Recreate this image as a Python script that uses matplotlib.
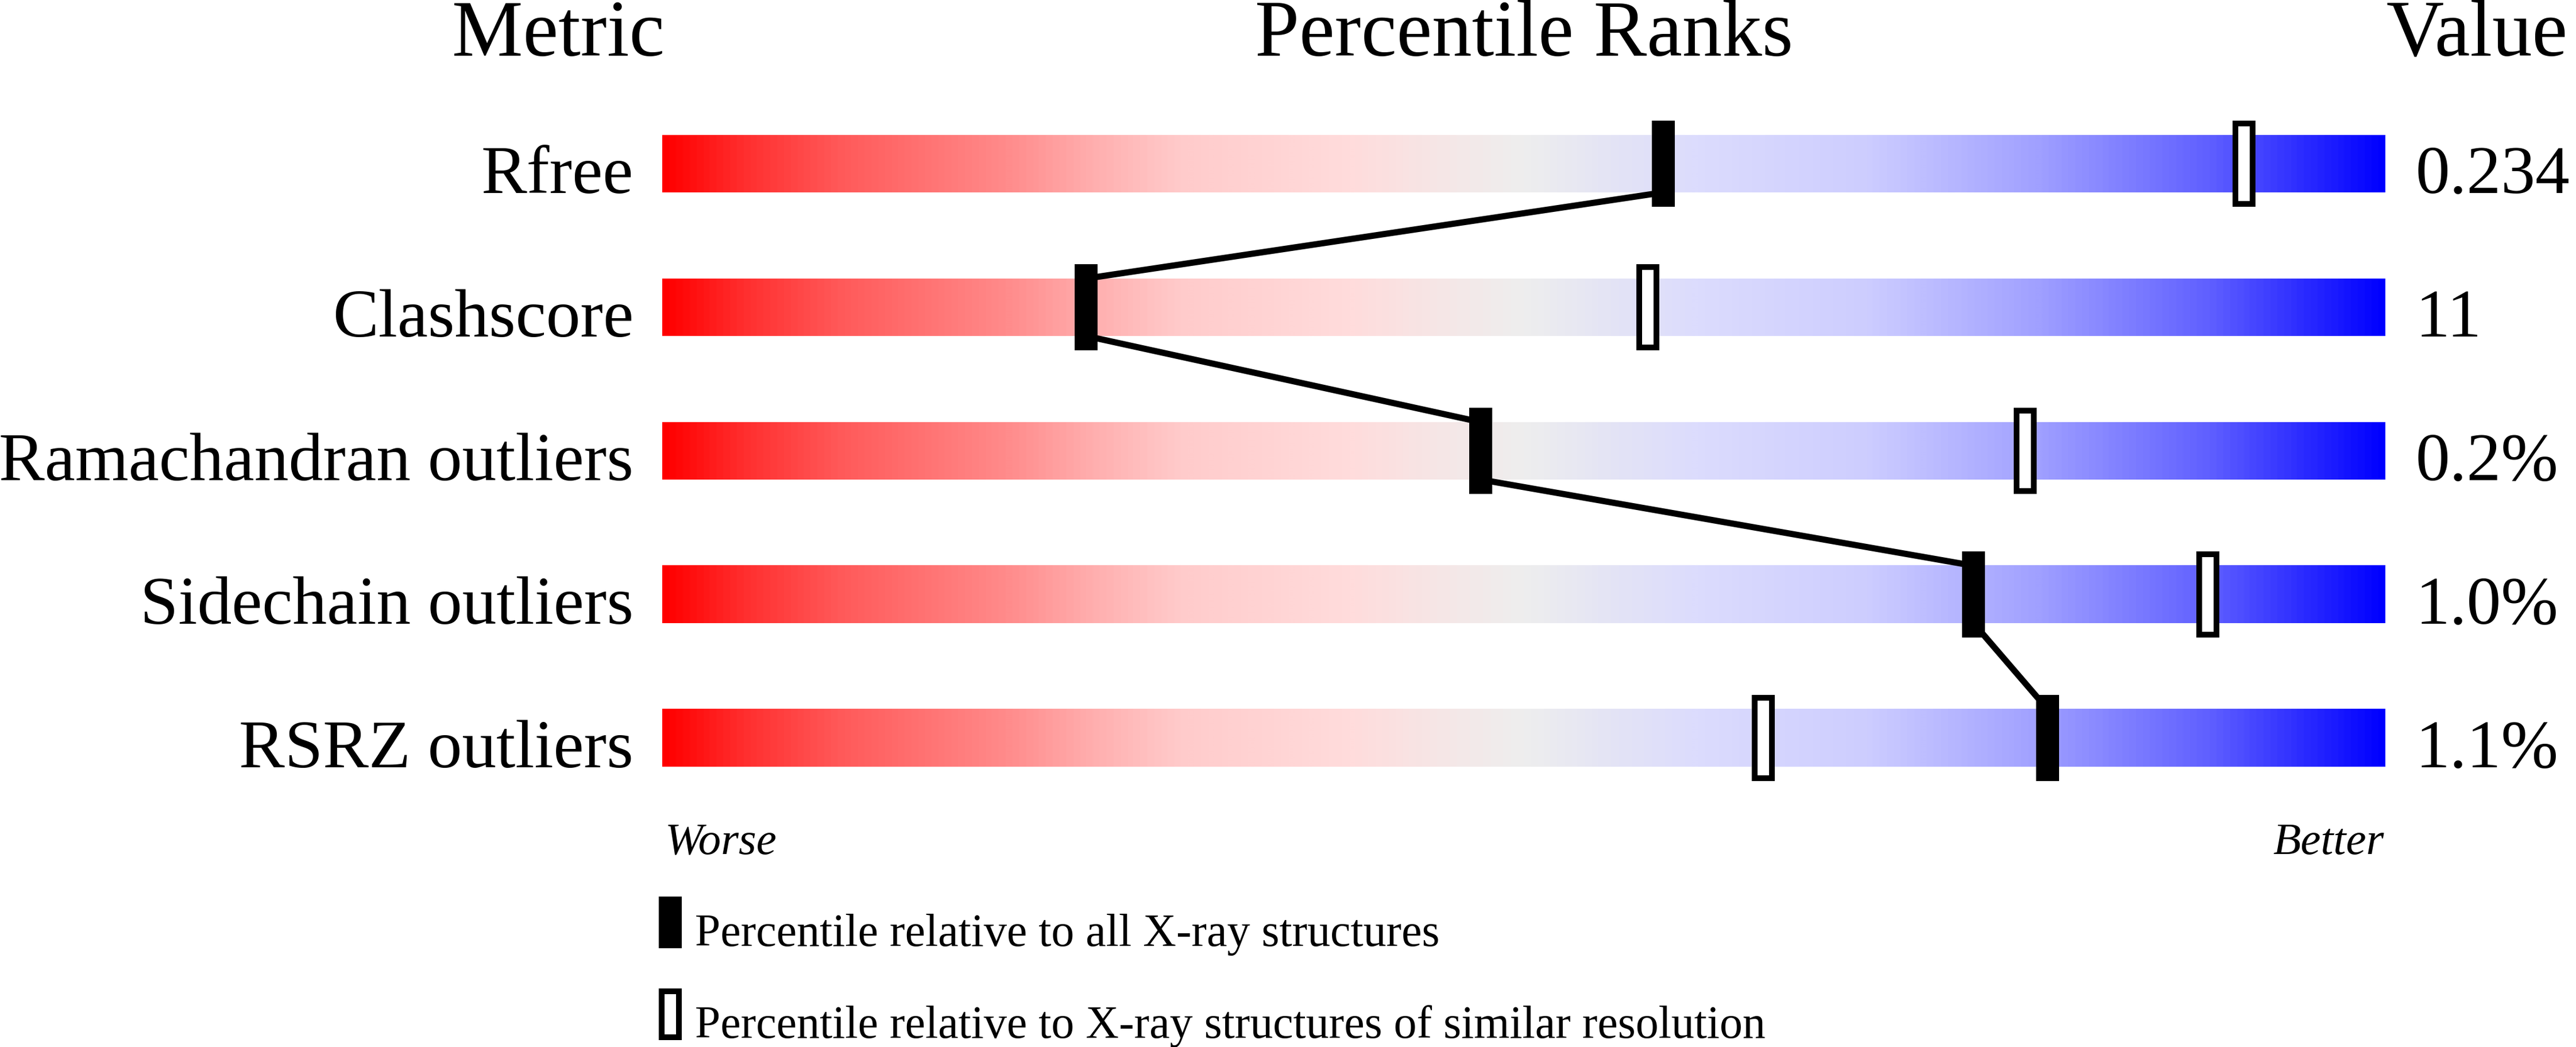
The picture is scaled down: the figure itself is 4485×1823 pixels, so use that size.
import matplotlib
matplotlib.use('Agg')
import numpy as np
import matplotlib.pyplot as plt
import matplotlib.transforms as mtransforms
from matplotlib.colors import LinearSegmentedColormap
from matplotlib.patches import Rectangle

# data
metrics = ['Rfree', 'Clashscore', 'Ramachandran outliers', 'Sidechain outliers', 'RSRZ outliers']
values = ['0.234', '11', '0.2%', '1.0%', '1.1%']
pct_all = [58.1, 24.6, 47.5, 76.1, 80.4]        # filled markers
pct_similar = [91.8, 57.2, 79.1, 89.7, 63.9]    # open markers
legend_labels = ['Percentile relative to all X-ray structures',
                 'Percentile relative to X-ray structures of similar resolution']

# red -> grey -> blue colour ramp of the slider
slider_stops = [
    (0.00, (255, 0, 0)),
    (0.05, (255, 50, 50)),
    (0.10, (255, 88, 88)),
    (0.20, (255, 140, 140)),
    (0.25, (255, 175, 175)),
    (0.30, (255, 203, 203)),
    (0.40, (255, 220, 220)),
    (0.45, (246, 230, 230)),
    (0.50, (238, 238, 238)),
    (0.55, (228, 228, 245)),
    (0.60, (220, 220, 253)),
    (0.70, (205, 205, 255)),
    (0.80, (160, 160, 255)),
    (0.90, (95, 95, 255)),
    (1.00, (0, 0, 255)),
]

plt.rcParams['font.family'] = ['Liberation Serif', 'DejaVu Serif']

W, H, DPI = 4485, 1824, 100
fig = plt.figure(figsize=(W / DPI, H / DPI), dpi=DPI)

# axes holding the bars: x = percentile 0..100, y = row index (250 px per row)
ax = fig.add_axes([1153 / W, 1 - 1411 / H, 3000 / W, 1250 / H])
px_x = 100 / 3000   # one pixel in x data units
px_y = 1 / 250      # one pixel in y data units

cmap = LinearSegmentedColormap.from_list(
    'slider', [(p, tuple(c / 255 for c in rgb)) for p, rgb in slider_stops])
grad = np.linspace(0, 1, 1500).reshape(1, -1)

n = len(metrics)
bar_half = 0.2
mark_half = 0.3
mark_w = 40 * px_x
border_x = 10 * px_x
border_y = 10 * px_y

for i in range(n):
    ax.imshow(grad, cmap=cmap, aspect='auto', interpolation='bilinear',
              extent=(0, 100, i + bar_half, i - bar_half), zorder=1)

# line joining the "all structures" markers
for i in range(n - 1):
    ax.plot([pct_all[i], pct_all[i + 1]], [i + bar_half, i + 1 - bar_half],
            color='black', lw=7.8, solid_capstyle='butt', zorder=2)

for i in range(n):
    p, q = pct_all[i], pct_similar[i]
    ax.add_patch(Rectangle((p - mark_w / 2, i - mark_half), mark_w, 2 * mark_half,
                           fc='black', ec='none', zorder=3))
    ax.add_patch(Rectangle((q - mark_w / 2, i - mark_half), mark_w, 2 * mark_half,
                           fc='black', ec='none', zorder=3))
    ax.add_patch(Rectangle((q - mark_w / 2 + border_x, i - mark_half + border_y),
                           mark_w - 2 * border_x, 2 * mark_half - 2 * border_y,
                           fc='white', ec='none', zorder=4))

ax.set_xlim(0, 100)
ax.set_ylim(n - 0.5, -0.5)
ax.axis('off')

blend = mtransforms.blended_transform_factory(ax.transAxes, ax.transData)

# headers
title_y = -0.5 + (97 - 161) * px_y
ax.text(-181 / 3000, title_y, 'Metric', ha='center', va='baseline', fontsize=100, transform=blend)
ax.text(0.5, title_y, 'Percentile Ranks', ha='center', va='baseline', fontsize=100, transform=blend)
ax.text(2 / 3000, title_y, 'Value', ha='left', va='baseline', fontsize=100,
        transform=mtransforms.blended_transform_factory(
            mtransforms.offset_copy(ax.transAxes, fig=fig, x=3000, y=0, units='dots'), ax.transData))

for i in range(n):
    ax.text(-50 / 3000, i + bar_half, metrics[i], ha='right', va='baseline',
            fontsize=86, transform=blend)
    ax.text(1 + 53 / 3000, i + bar_half, values[i], ha='left', va='baseline',
            fontsize=86, transform=blend)

# worse / better
wb_y = -0.5 + (1487 - 161) * px_y
ax.text(5 / 3000, wb_y, 'Worse', ha='left', va='baseline', fontsize=57,
        style='italic', transform=blend)
ax.text(1 - 2 / 3000, wb_y, 'Better', ha='right', va='baseline', fontsize=57,
        style='italic', transform=blend)

# legend
leg_top = [1562, 1722]
for k, label in enumerate(legend_labels):
    y0 = -0.5 + (leg_top[k] - 161) * px_y
    hgt = 90 * px_y
    x0 = -6 * px_x
    ax.add_patch(Rectangle((x0, y0), mark_w, hgt, fc='black', ec='none',
                           clip_on=False, zorder=3))
    if k == 1:
        ax.add_patch(Rectangle((x0 + border_x, y0 + border_y), mark_w - 2 * border_x,
                               hgt - 2 * border_y, fc='white', ec='none',
                               clip_on=False, zorder=4))
    ax.text(57 * px_x, y0 + 85 * px_y, label, ha='left', va='baseline',
            fontsize=57.5)

fig.savefig('out.png', dpi=DPI)
